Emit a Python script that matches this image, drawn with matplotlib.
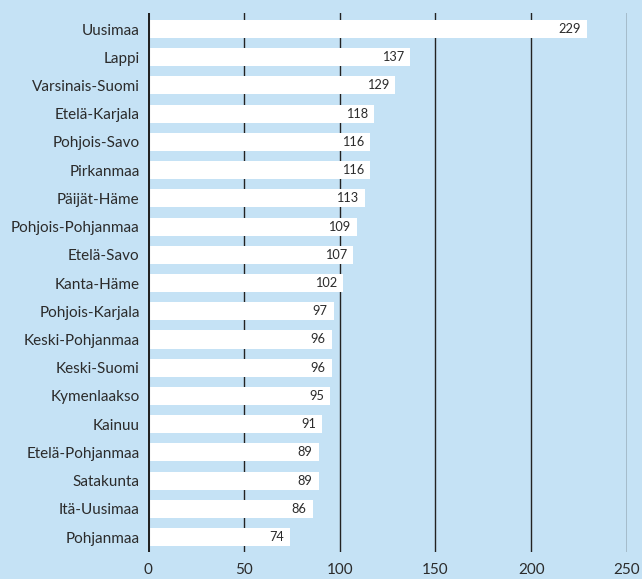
import matplotlib
matplotlib.use("Agg")
import matplotlib.pyplot as plt

regions = ["Uusimaa", "Lappi", "Varsinais-Suomi", "Etelä-Karjala", "Pohjois-Savo",
           "Pirkanmaa", "Päijät-Häme", "Pohjois-Pohjanmaa", "Etelä-Savo", "Kanta-Häme",
           "Pohjois-Karjala", "Keski-Pohjanmaa", "Keski-Suomi", "Kymenlaakso", "Kainuu",
           "Etelä-Pohjanmaa", "Satakunta", "Itä-Uusimaa", "Pohjanmaa"]
values = [229, 137, 129, 118, 116, 116, 113, 109, 107, 102, 97, 96, 96, 95, 91, 89, 89, 86, 74]
xticks = [0, 50, 100, 150, 200, 250]

bg = "#c5e2f5"
txt = "#2b2b2b"
plt.rcParams['font.family'] = ['Lato', 'DejaVu Sans']

fig = plt.figure(figsize=(6.42, 5.79), dpi=100, facecolor=bg)
ax = fig.add_axes([148/642, 1-552/579, 479/642, 539/579])
ax.set_facecolor(bg)

y = list(range(len(regions)))
ax.barh(y, values, height=0.64, color="white", zorder=3)
for yi, v in zip(y, values):
    ax.text(v - 3.2, yi, str(v), ha="right", va="center", fontsize=9.2, color=txt, zorder=4)

for t in xticks[1:]:
    ax.axvline(t, color="#222222", lw=1, zorder=1)
ax.axvline(0, color="#222222", lw=2.2, zorder=5)

ax.set_xlim(0, 250)
ax.set_ylim(18.53, -0.567)
ax.set_yticks(y)
ax.set_yticklabels(regions, fontsize=11, color=txt)
ax.set_xticks(xticks)
ax.set_xticklabels([str(t) for t in xticks], fontsize=11, color=txt)
ax.tick_params(length=0, pad=6)
ax.tick_params(axis="x", pad=8)
for s in ax.spines.values():
    s.set_visible(False)

fig.savefig("out.png", dpi=100, facecolor=bg)
